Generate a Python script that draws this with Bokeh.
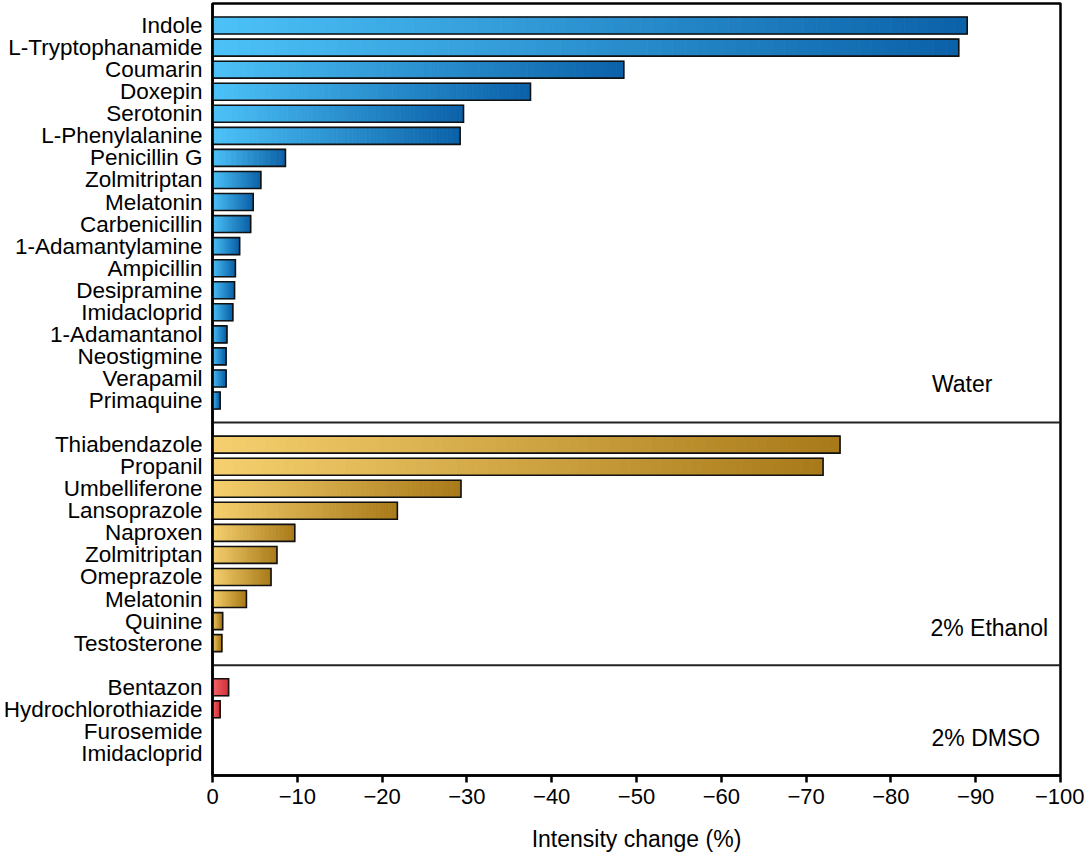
import numpy as np
from bokeh.plotting import figure
from bokeh.models import Range1d, FixedTicker, ColumnDataSource
from bokeh.core.properties import value
from bokeh.embed import file_html
from bokeh.resources import INLINE

# ---------------- data ----------------
water_names = ["Indole", "L-Tryptophanamide", "Coumarin", "Doxepin", "Serotonin",
               "L-Phenylalanine", "Penicillin G", "Zolmitriptan", "Melatonin",
               "Carbenicillin", "1-Adamantylamine", "Ampicillin", "Desipramine",
               "Imidacloprid", "1-Adamantanol", "Neostigmine", "Verapamil", "Primaquine"]
water_vals = [-89.0, -88.0, -48.5, -37.5, -29.6, -29.2, -8.6, -5.7, -4.8,
              -4.5, -3.2, -2.7, -2.6, -2.4, -1.7, -1.6, -1.6, -0.9]

ethanol_names = ["Thiabendazole", "Propanil", "Umbelliferone", "Lansoprazole",
                 "Naproxen", "Zolmitriptan", "Omeprazole", "Melatonin",
                 "Quinine", "Testosterone"]
ethanol_vals = [-74.0, -72.0, -29.3, -21.8, -9.7, -7.6, -6.9, -4.0, -1.2, -1.1]

dmso_names = ["Bentazon", "Hydrochlorothiazide", "Furosemide", "Imidacloprid"]
dmso_vals = [-1.9, -0.9, 0.0, 0.0]

group_names = ["Water", "2% Ethanol", "2% DMSO"]
x_ticks = [0, -10, -20, -30, -40, -50, -60, -70, -80, -90, -100]
x_title = "Intensity change (%)"

# ---------------- styling ----------------
FONT = "Liberation Sans"
grad = {
    "Water": ((76, 194, 248), (11, 97, 168)),
    "2% Ethanol": ((246, 208, 110), (168, 121, 24)),
    "2% DMSO": ((243, 105, 110), (214, 50, 59)),
}

groups = [(water_names, water_vals, "Water"),
          (ethanol_names, ethanol_vals, "2% Ethanol"),
          (dmso_names, dmso_vals, "2% DMSO")]
ypos, names, vals, gcol = [], [], [], []
idx = 1
seps = []
for gi, (nm, vl, g) in enumerate(groups):
    for n, v in zip(nm, vl):
        ypos.append(idx); names.append(n); vals.append(v); gcol.append(g)
        idx += 1
    if gi < len(groups) - 1:
        seps.append(idx)
        idx += 1
y_bottom = idx  # 35

p = figure(width=1084, height=854, output_backend="svg", toolbar_location=None,
           x_range=Range1d(0, -100), y_range=Range1d(y_bottom, 0),
           min_border_left=212, min_border_right=24, min_border_top=3,
           min_border_bottom=10, background_fill_color="white")
p.xgrid.visible = False
p.ygrid.visible = False
p.outline_line_color = "black"
p.outline_line_width = 2.5

# gradient slices
N = 60
h = 0.385
L, R, T, B, C = [], [], [], [], []
for y, v, g in zip(ypos, vals, gcol):
    if v == 0:
        continue
    c0, c1 = grad[g]
    for k in range(N):
        f = (k + 0.5) / N
        col = tuple(int(round(c0[i] + (c1[i] - c0[i]) * f)) for i in range(3))
        L.append(v * k / N); R.append(v * (k + 1) / N)
        T.append(y - h); B.append(y + h)
        C.append("#%02x%02x%02x" % col)
src = ColumnDataSource(dict(left=L, right=R, top=T, bottom=B, color=C))
p.quad(left="left", right="right", top="top", bottom="bottom", source=src,
       fill_color="color", line_color="color", line_width=0.8)

bars = [(y, v) for y, v in zip(ypos, vals) if v != 0]
p.quad(left=[0] * len(bars), right=[b[1] for b in bars],
       top=[b[0] - h for b in bars], bottom=[b[0] + h for b in bars],
       fill_color=None, line_color="#111111", line_width=1.6, line_join="miter")

# separators
p.segment(x0=[0] * len(seps), x1=[-100] * len(seps), y0=seps, y1=seps,
          line_color="#222222", line_width=2)

# group labels
p.text(x=[-88.4, -91.6, -91.2], y=[17.27, 28.3, 33.3], text=group_names,
       text_font=value(FONT), text_font_size="23px", text_color="black",
       text_align="center", text_baseline="middle")

# x axis
p.xaxis.ticker = FixedTicker(ticks=x_ticks)
p.xaxis.major_label_overrides = {t: ("0" if t == 0 else "\u2212" + str(abs(t)))
                                 for t in x_ticks}
p.xaxis.minor_tick_line_color = None
p.xaxis.major_tick_in = 0
p.xaxis.major_tick_out = 7
p.xaxis.major_tick_line_width = 2.5
p.xaxis.major_tick_line_color = "black"
p.xaxis.axis_line_width = 2.5
p.xaxis.axis_line_color = "black"
p.xaxis.major_label_text_font = FONT
p.xaxis.major_label_text_font_size = "22px"
p.xaxis.major_label_text_color = "black"
p.xaxis.major_label_standoff = 6
p.xaxis.axis_label = x_title
p.xaxis.axis_label_text_font = FONT
p.xaxis.axis_label_text_font_size = "23px"
p.xaxis.axis_label_text_font_style = "normal"
p.xaxis.axis_label_text_color = "black"
p.xaxis.axis_label_standoff = 19

# y axis
p.yaxis.ticker = FixedTicker(ticks=ypos)
p.yaxis.major_label_overrides = {y: n for y, n in zip(ypos, names)}
p.yaxis.major_tick_line_color = None
p.yaxis.minor_tick_line_color = None
p.yaxis.axis_line_width = 2.5
p.yaxis.axis_line_color = "black"
p.yaxis.major_label_text_font = FONT
p.yaxis.major_label_text_font_size = "22.5px"
p.yaxis.major_label_text_color = "black"
p.yaxis.major_label_standoff = 4

open("out.html", "w").write(file_html(p, INLINE))
